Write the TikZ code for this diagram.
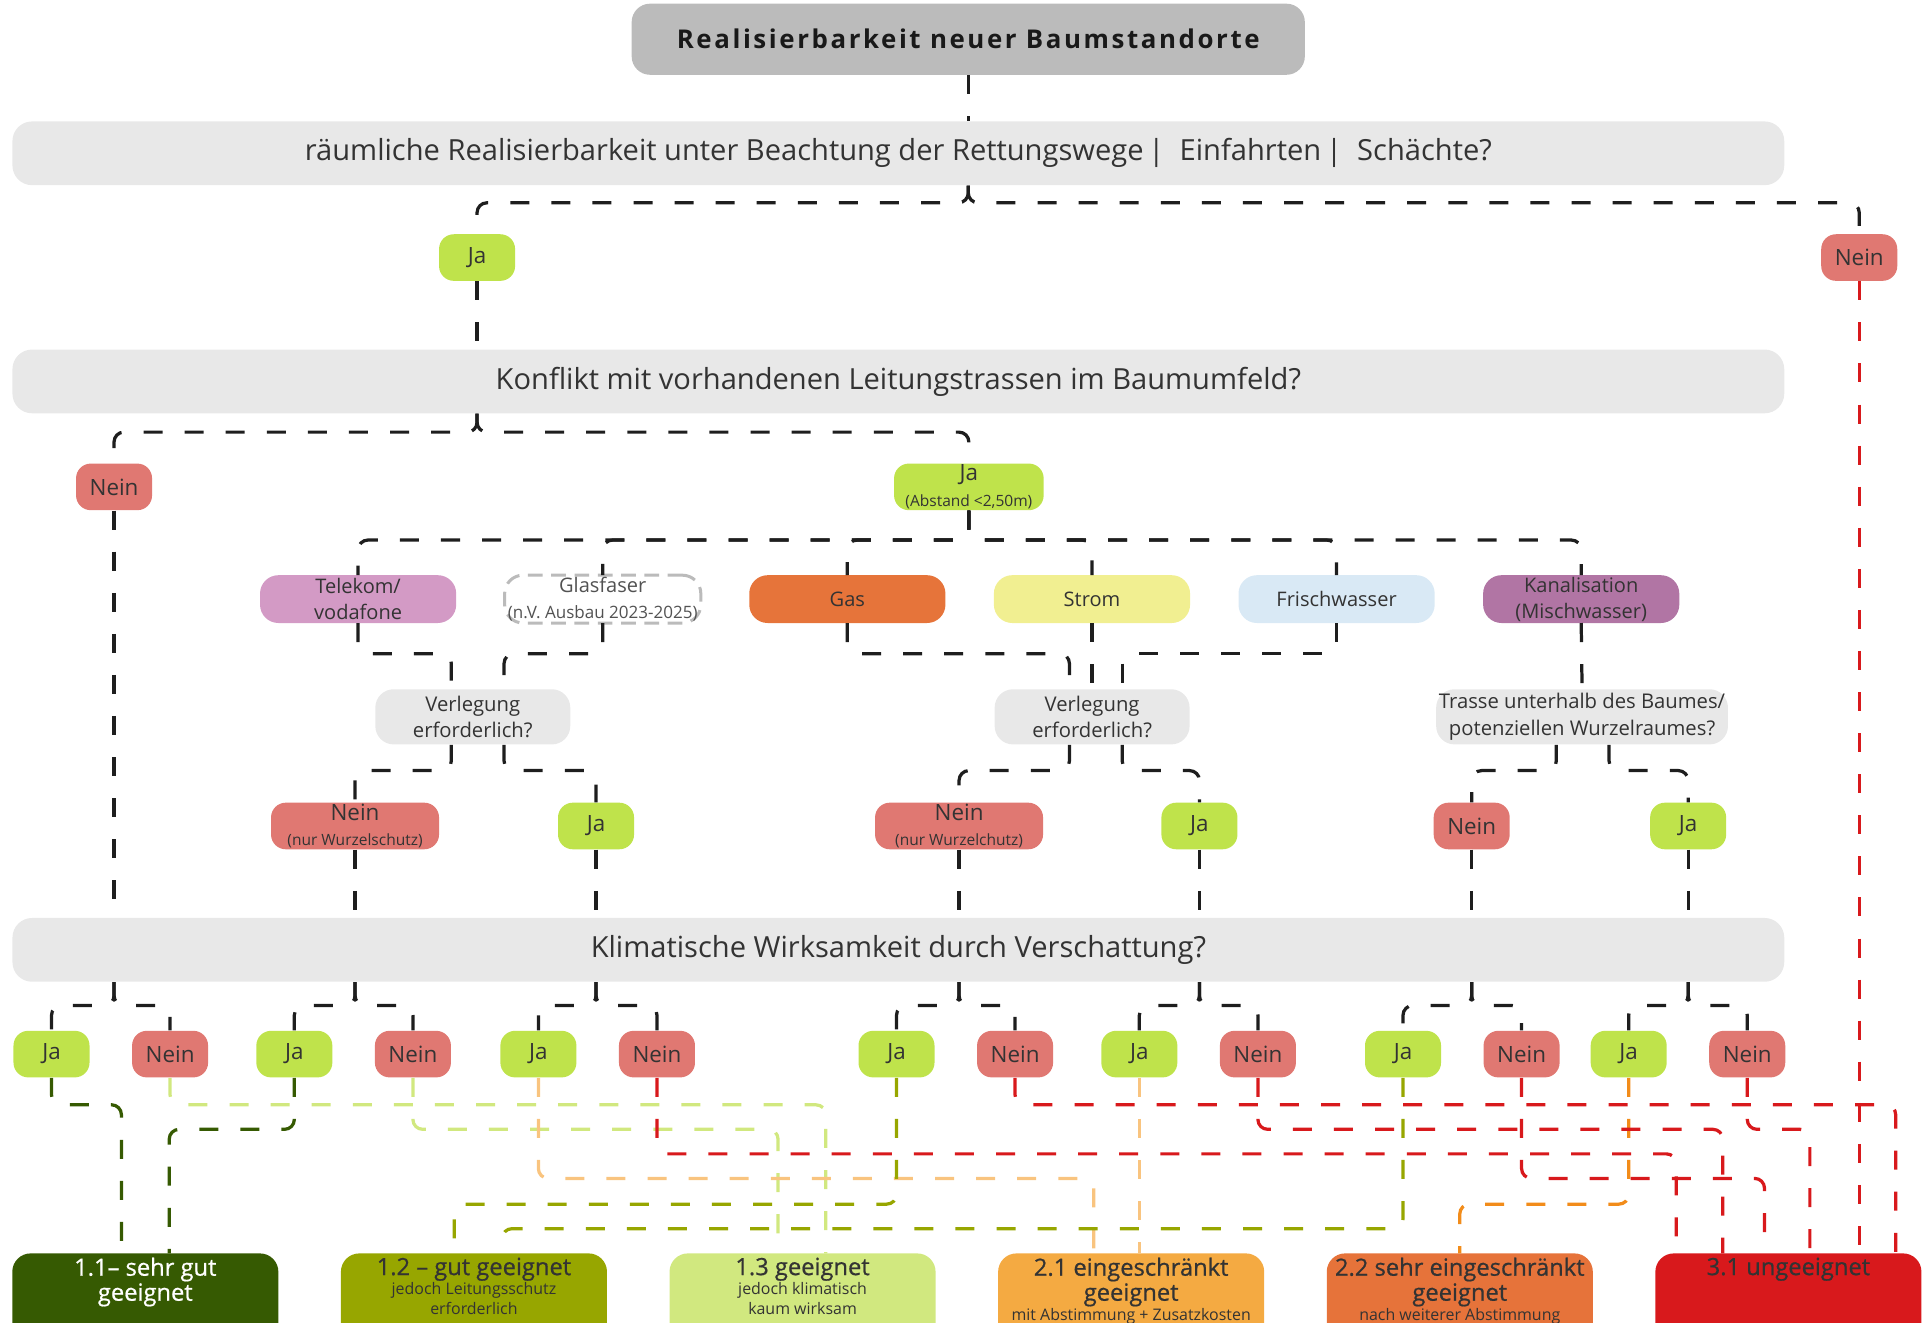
\documentclass[tikz,border=0pt]{standalone}
\usepackage{fontspec}
\setmainfont{Open Sans}
\newfontfamily\resfont{Open Sans}[FakeBold=0.7]
\usetikzlibrary{positioning}

\definecolor{qgray}{HTML}{E8E8E8}
\definecolor{headgray}{HTML}{BBBBBB}
\definecolor{jagreen}{HTML}{BFE34B}
\definecolor{neinred}{HTML}{E07872}
\definecolor{telekomcol}{HTML}{D39AC5}
\definecolor{gascol}{HTML}{E6743A}
\definecolor{stromcol}{HTML}{F1EF91}
\definecolor{wassercol}{HTML}{D9E9F5}
\definecolor{kanalcol}{HTML}{B175A4}
\definecolor{darkgreen}{HTML}{365A02}
\definecolor{resolive}{HTML}{97A600}
\definecolor{reslight}{HTML}{D1E87F}
\definecolor{softorange}{HTML}{F9C47F}
\definecolor{resorange}{HTML}{F4AA42}
\definecolor{strongorange}{HTML}{F28C1A}
\definecolor{resrust}{HTML}{E6733A}
\definecolor{resred}{HTML}{D8191C}
\definecolor{txt}{HTML}{333333}
\definecolor{linecol}{HTML}{1E1E1E}

\newcommand{\notefont}{\fontsize{7.2}{8}\selectfont}
\newcommand{\restext}[2]{\parbox[t][1.5cm][t]{4.34cm}{\centering
  {\resfont\fontsize{11}{11.6}\selectfont #1\par}
  \fontsize{7.4}{9.2}\selectfont #2}}

\tikzset{
  headbox/.style={fill=headgray, rounded corners=0.3cm,
    minimum width=10.98cm, minimum height=1.16cm, inner sep=0pt,
    text=black!90,
    font=\fontsize{12}{14}\selectfont\bfseries\addfontfeatures{LetterSpace=10}},
  question/.style={fill=qgray, rounded corners=0.32cm,
    minimum width=28.9cm, minimum height=1.04cm, inner sep=0pt,
    text=txt, font=\fontsize{13.5}{16}\selectfont},
  answer/.style={rounded corners=0.24cm, minimum width=1.24cm,
    minimum height=0.76cm, inner sep=0pt, align=center,
    text=txt, font=\fontsize{10.4}{12}\selectfont},
  jabox/.style={answer, fill=jagreen},
  neinbox/.style={answer, fill=neinred},
  netbox/.style={rounded corners=0.3cm, minimum width=3.2cm,
    minimum height=0.78cm, inner sep=0pt, outer sep=0pt, align=center,
    text=txt, font=\fontsize{9.3}{12}\selectfont},
  verlbox/.style={fill=qgray, rounded corners=0.3cm,
    minimum height=0.9cm, inner sep=0pt, align=center,
    text=txt, font=\fontsize{9.4}{12.4}\selectfont},
  resultbox/.style={rounded corners=0.3cm, inner xsep=0pt,
    inner ysep=0.07cm, outer sep=0pt, text=txt},
  link/.style={draw=linecol, line width=1.5pt,
    dash pattern=on 0.31cm off 0.36cm, rounded corners=0.16cm},
  flow/.style={link, draw=#1},
}

\begin{document}
\begin{tikzpicture}[x=0.02cm, y=-0.02cm]
  \useasboundingbox (0,0) rectangle (1568,1078);
  \clip (0,0) rectangle (1568,1078);

  % Fragen
  \node [headbox] (head) at (789.5,32) {Realisierbarkeit neuer Baumstandorte};
  \node [question] (q1) at (732.5,125)
    {räumliche Realisierbarkeit unter Beachtung der Rettungswege\,|\ \ Einfahrten\,|\ \ Schächte?};
  \node [jabox] (ja1) at (389,210) {Ja};
  \node [neinbox] (nein1) at (1516,210) {Nein};
  \node [question] (q2) at (732.5,311)
    {Konflikt mit vorhandenen Leitungstrassen im Baumumfeld?};
  \node [neinbox] (nein2) at (93,397) {Nein};
  \node [jabox,
    minimum width=2.44cm
  ] (ja2) at (790,397) {Ja\\{\notefont (Abstand <2,50m)}};

  % Leitungen
  \node [netbox,
    fill=telekomcol
  ] (telekom) at (292,488.5) {Telekom/\\vodafone};
  \node [netbox,
    draw=headgray, fill=white, line width=1.4pt,
    dash pattern=on 0.24cm off 0.14cm, text=txt!85,
    right=0.79cm of telekom
  ] (glas) {Glasfaser\\{\fontsize{7.9}{9}\selectfont (n.V. Ausbau 2023-2025)}};
  \node [netbox,
    fill=gascol,
    right=0.79cm of glas
  ] (gas) {Gas};
  \node [netbox,
    fill=stromcol,
    right=0.79cm of gas
  ] (strom) {Strom};
  \node [netbox,
    fill=wassercol,
    right=0.79cm of strom
  ] (wasser) {Frischwasser};
  \node [netbox,
    fill=kanalcol,
    right=0.79cm of wasser
  ] (kanal) {Kanalisation\\(Mischwasser)};

  \node [verlbox,
    minimum width=3.18cm
  ] (verl1) at (385.5,584.5) {Verlegung\\erforderlich?};
  \node [verlbox,
    minimum width=3.18cm
  ] (verl2) at (890.5,584.5) {Verlegung\\erforderlich?};
  \node [verlbox,
    minimum width=4.76cm
  ] (trasse) at (1290,584.5) {Trasse unterhalb des Baumes/\\potenziellen Wurzelraumes?};

  \node [neinbox,
    minimum width=2.74cm
  ] (neinA) at (289.5,673.5) {Nein\\{\notefont (nur Wurzelschutz)}};
  \node [jabox] (jaA) at (486,673.5) {Ja};
  \node [neinbox,
    minimum width=2.74cm
  ] (neinB) at (782,673.5) {Nein\\{\notefont (nur Wurzelchutz)}};
  \node [jabox] (jaB) at (978,673.5) {Ja};
  \node [neinbox] (neinC) at (1200,673.5) {Nein};
  \node [jabox] (jaC) at (1376.5,673.5) {Ja};

  \node [question] (q3) at (732.5,774.5)
    {Klimatische Wirksamkeit durch Verschattung?};

  % Antworten Klima
  \node [jabox] (kja1) at (42,859.5) {Ja};
  \node [neinbox, right=0.68cm of kja1] (knein1) {Nein};
  \node [jabox] (kja2) at (240,859.5) {Ja};
  \node [neinbox, right=0.68cm of kja2] (knein2) {Nein};
  \node [jabox] (kja3) at (439,859.5) {Ja};
  \node [neinbox, right=0.68cm of kja3] (knein3) {Nein};
  \node [jabox] (kja4) at (731,859.5) {Ja};
  \node [neinbox, right=0.68cm of kja4] (knein4) {Nein};
  \node [jabox] (kja5) at (929,859.5) {Ja};
  \node [neinbox, right=0.68cm of kja5] (knein5) {Nein};
  \node [jabox] (kja6) at (1144,859.5) {Ja};
  \node [neinbox, right=0.68cm of kja6] (knein6) {Nein};
  \node [jabox] (kja7) at (1328,859.5) {Ja};
  \node [neinbox, right=0.68cm of kja7] (knein7) {Nein};

  % Ergebnisse
  \node [resultbox,
    fill=darkgreen, text=white,
    anchor=north
  ] (res11) at (118.5,1022) {\restext{1.1– sehr gut\\geeignet}{}};
  \node [resultbox,
    fill=resolive,
    right=1.02cm of res11
  ] (res12) {\restext{1.2 – gut geeignet}{jedoch Leitungsschutz\\erforderlich}};
  \node [resultbox,
    fill=reslight,
    right=1.02cm of res12
  ] (res13) {\restext{1.3 geeignet}{jedoch klimatisch\\kaum wirksam}};
  \node [resultbox,
    fill=resorange,
    right=1.02cm of res13
  ] (res21) {\restext{2.1 eingeschränkt\\geeignet}{mit Abstimmung + Zusatzkosten}};
  \node [resultbox,
    fill=resrust,
    right=1.02cm of res21
  ] (res22) {\restext{2.2 sehr eingeschränkt\\geeignet}{nach weiterer Abstimmung}};
  \node [resultbox,
    fill=resred,
    right=1.02cm of res22
  ] (res31) {\restext{3.1 ungeeignet}{}};

  % schwarze Verbindungen
  \draw[link] (head.south) -- (head.south |- q1.north);
  \draw[link] (q1.south -| head.south) -- ++(0,14) -| (ja1.north);
  \draw[link] (q1.south -| head.south) -- ++(0,14) -| (nein1.north);
  \draw[link] (ja1.south) -- (ja1.south |- q2.north);
  \draw[link] (q2.south -| ja1.south) -- ++(0,15) -| (nein2.north);
  \draw[link] (q2.south -| ja1.south) -- ++(0,15) -| (ja2.north);
  \draw[link] (nein2.south) -- (nein2.south |- q3.north);

  \draw[link] (ja2.south) -- ++(0,24) -| (telekom.north);
  \draw[link] (ja2.south) -- ++(0,24) -| (glas.north);
  \draw[link] (ja2.south) -- ++(0,24) -| (gas.north);
  \draw[link] (ja2.south) -- ++(0,24) -| (strom.north);
  \draw[link] (ja2.south) -- ++(0,24) -| (wasser.north);
  \draw[link] (ja2.south) -- ++(0,24) -| (kanal.north);

  \draw[link] (telekom.south) -- ++(0,25) -| ([xshift=-0.35cm]verl1.north);
  \draw[link] (glas.south) -- ++(0,25) -| ([xshift=0.51cm]verl1.north);
  \draw[link] (gas.south) -- ++(0,25) -| ([xshift=-0.37cm]verl2.north);
  \draw[link] (strom.south) -- (strom.south |- verl2.north);
  \draw[link] (wasser.south) -- ++(0,25) -| ([xshift=0.49cm]verl2.north);
  \draw[link] (kanal.south) -- (trasse.north);

  \draw[link] ([xshift=-0.35cm]verl1.south) -- ++(0,21) -| (neinA.north);
  \draw[link] ([xshift=0.51cm]verl1.south) -- ++(0,21) -| (jaA.north);
  \draw[link] ([xshift=-0.37cm]verl2.south) -- ++(0,21) -| (neinB.north);
  \draw[link] ([xshift=0.49cm]verl2.south) -- ++(0,21) -| (jaB.north);
  \draw[link] ([xshift=-0.42cm]trasse.south) -- ++(0,21) -| (neinC.north);
  \draw[link] ([xshift=0.44cm]trasse.south) -- ++(0,21) -| (jaC.north);

  \draw[link] (neinA.south) -- (neinA.south |- q3.north);
  \draw[link] (jaA.south) -- (jaA.south |- q3.north);
  \draw[link] (neinB.south) -- (neinB.south |- q3.north);
  \draw[link] (jaB.south) -- (jaB.south |- q3.north);
  \draw[link] (neinC.south) -- (neinC.south |- q3.north);
  \draw[link] (jaC.south) -- (jaC.south |- q3.north);

  \draw[link] (q3.south -| nein2.south) -- ++(0,19) -| (kja1.north);
  \draw[link] (q3.south -| nein2.south) -- ++(0,19) -| (knein1.north);
  \draw[link] (q3.south -| neinA.south) -- ++(0,19) -| (kja2.north);
  \draw[link] (q3.south -| neinA.south) -- ++(0,19) -| (knein2.north);
  \draw[link] (q3.south -| jaA.south) -- ++(0,19) -| (kja3.north);
  \draw[link] (q3.south -| jaA.south) -- ++(0,19) -| (knein3.north);
  \draw[link] (q3.south -| neinB.south) -- ++(0,19) -| (kja4.north);
  \draw[link] (q3.south -| neinB.south) -- ++(0,19) -| (knein4.north);
  \draw[link] (q3.south -| jaB.south) -- ++(0,19) -| (kja5.north);
  \draw[link] (q3.south -| jaB.south) -- ++(0,19) -| (knein5.north);
  \draw[link] (q3.south -| neinC.south) -- ++(0,19) -| (kja6.north);
  \draw[link] (q3.south -| neinC.south) -- ++(0,19) -| (knein6.north);
  \draw[link] (q3.south -| jaC.south) -- ++(0,19) -| (kja7.north);
  \draw[link] (q3.south -| jaC.south) -- ++(0,19) -| (knein7.north);

  % farbige Verbindungen zu den Ergebnissen
  \draw[flow=darkgreen] (kja1.south) -- ++(0,22) -| ([xshift=-0.39cm]res11.north);
  \draw[flow=darkgreen] (kja2.south) -- ++(0,42) -| ([xshift=0.39cm]res11.north);
  \draw[flow=reslight] (knein1.south) -- ++(0,22) -| ([xshift=0.38cm]res13.north);
  \draw[flow=reslight] (knein2.south) -- ++(0,42) -| ([xshift=-0.4cm]res13.north);
  \draw[flow=softorange] (kja3.south) -- ++(0,82) -| ([xshift=-0.61cm]res21.north);
  \draw[flow=softorange] (kja5.south) -- (kja5.south |- res21.north);
  \draw[flow=resolive] (kja4.south) -- ++(0,103) -| ([xshift=-0.32cm]res12.north);
  \draw[flow=resolive] (kja6.south) -- ++(0,123) -| ([xshift=0.46cm]res12.north);
  \draw[flow=strongorange] (kja7.south) -- ++(0,103) -| (res22.north);
  \draw[flow=resred] (knein3.south) -- ++(0,62) -| ([xshift=-1.83cm]res31.north);
  \draw[flow=resred] (knein4.south) -- ++(0,22) -| ([xshift=1.75cm]res31.north);
  \draw[flow=resred] (knein5.south) -- ++(0,42) -| ([xshift=-1.07cm]res31.north);
  \draw[flow=resred] (knein6.south) -- ++(0,82) -| ([xshift=-0.39cm]res31.north);
  \draw[flow=resred] (knein7.south) -- ++(0,42) -| ([xshift=0.35cm]res31.north);
  \draw[flow=resred] (nein1.south) -- (nein1.south |- res31.north);
\end{tikzpicture}
\end{document}
